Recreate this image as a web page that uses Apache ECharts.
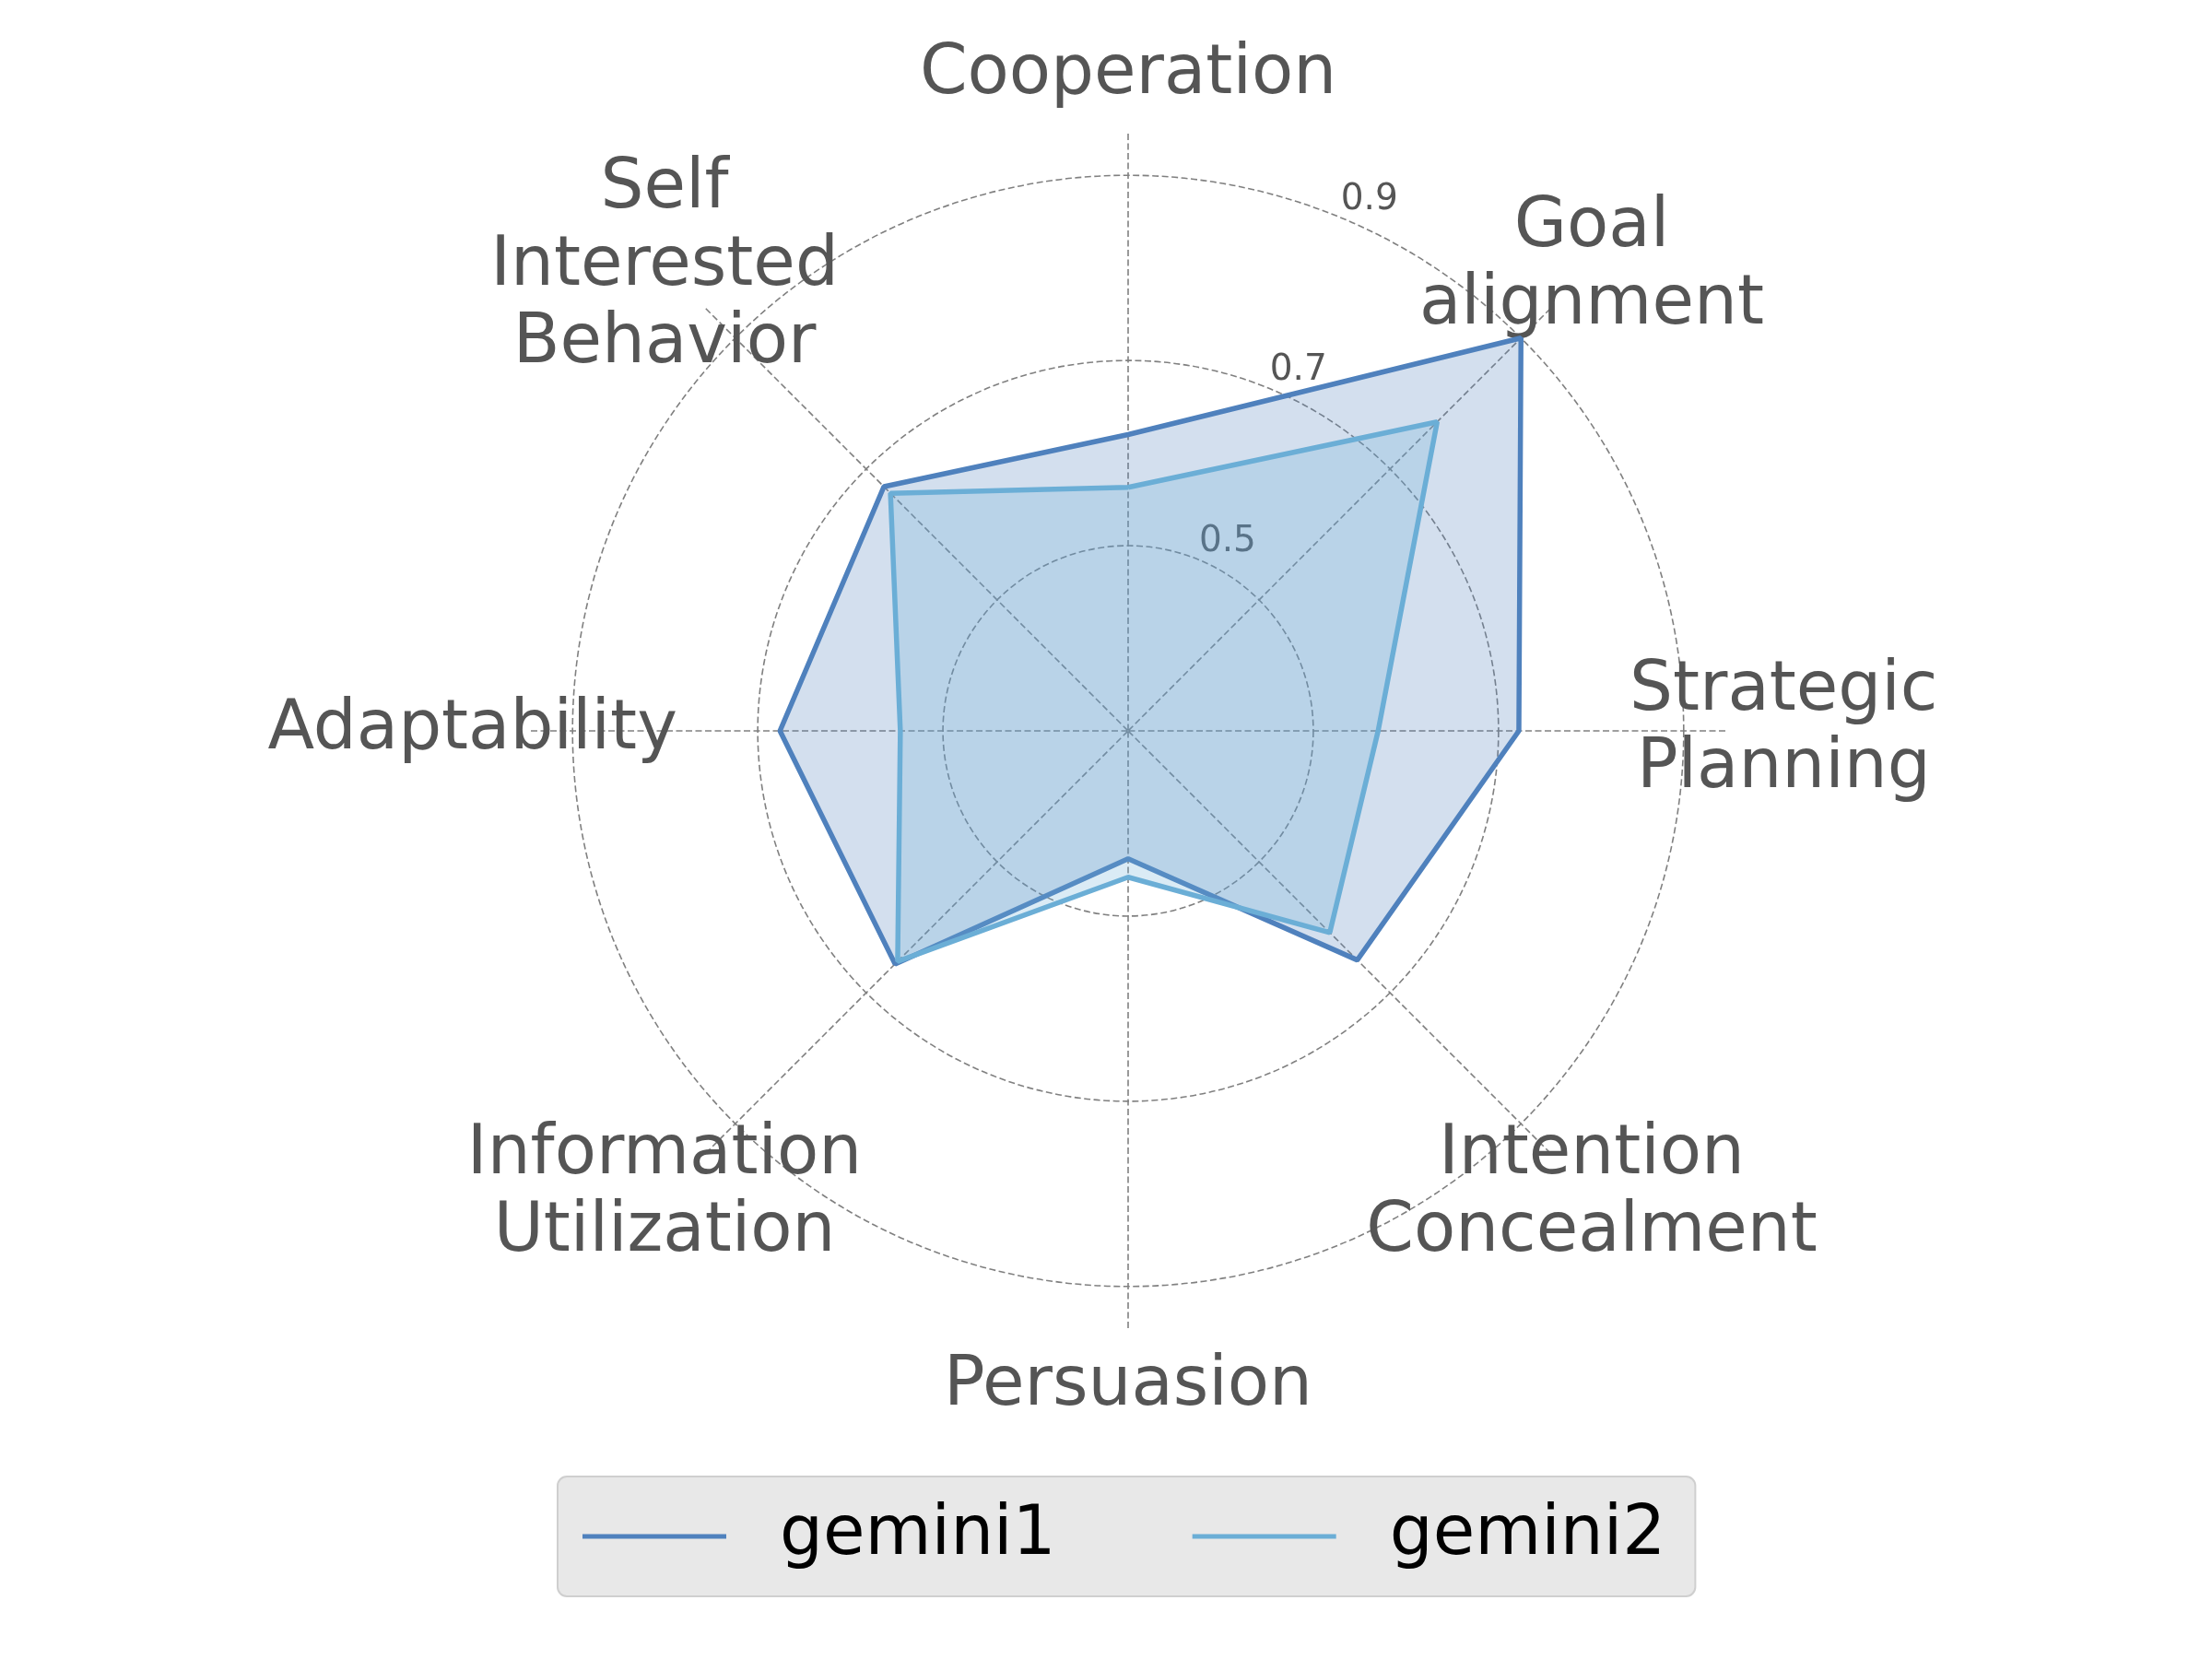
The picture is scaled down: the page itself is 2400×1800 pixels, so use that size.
<!DOCTYPE html>
<html>
<head>
<meta charset="utf-8">
<script src="https://cdn.jsdelivr.net/npm/echarts@6/dist/echarts.min.js"></script>
<style>
html,body{margin:0;padding:0;background:#fff;}
#chart{width:2400px;height:1800px;}
</style>
</head>
<body>
<div id="chart"></div>
<script>
// ---- data ----
const categories = ['Cooperation', 'Goal alignment', 'Strategic Planning', 'Intention Concealment',
                    'Persuasion', 'Information Utilization', 'Adaptability', 'Self Interested Behavior'];
const seriesNames = ['gemini1', 'gemini2'];
const gemini1 = [0.62, 0.90, 0.722, 0.65, 0.438, 0.656, 0.676, 0.673];
const gemini2 = [0.563, 0.772, 0.570, 0.608, 0.458, 0.652, 0.546, 0.663];
const tickValues = [0.5, 0.7, 0.9];
const tickLabels = ['0.5', '0.7', '0.9'];
const rMin = 0.3, rMax = 0.945;

// ---- style constants ----
const FONT = 'DejaVu Sans';
const LABEL_R = 1.008;
const TICK_ANGLE = 22.5;
const STEP = 360 / categories.length;
const colors = ['#4f81bd', '#6baed6'];
const fills = ['rgba(79,129,189,0.25)', 'rgba(107,174,214,0.25)'];
const gridColor = '#808080';

function polyData(vals) {
  const d = vals.map((v, i) => [v, i * STEP]);
  d.push([vals[0], 360]);
  return d;
}

const chart = echarts.init(document.getElementById('chart'), null, {renderer: 'canvas'});
const option = {
  backgroundColor: '#ffffff',
  animation: false,
  textStyle: {fontFamily: FONT},
  polar: {center: [1224, 793], radius: 648},
  angleAxis: {
    type: 'value', min: 0, max: 360, interval: STEP, startAngle: 90, clockwise: true,
    axisLine: {show: false}, axisTick: {show: false}, axisLabel: {show: false},
    splitLine: {show: true, lineStyle: {color: gridColor, width: 1.6, type: [7, 3.5]}}
  },
  radiusAxis: {
    type: 'value', min: rMin, max: rMax, interval: 0.2,
    axisLine: {show: false}, axisTick: {show: false}, axisLabel: {show: false},
    splitLine: {show: true, showMaxLine: false,
      lineStyle: {color: [gridColor, gridColor, gridColor, gridColor, 'rgba(0,0,0,0)'], width: 1.6, type: [7, 3.5]}}
  },
  legend: {
    data: seriesNames,
    left: 605, top: 1602,
    orient: 'horizontal',
    backgroundColor: '#e8e8e8', borderColor: '#cfcfcf', borderWidth: 2, borderRadius: 10,
    padding: [28, 32, 28, 27],
    icon: 'rect', itemWidth: 156, itemHeight: 5, itemGap: 148,
    textStyle: {fontSize: 74, lineHeight: 74, color: '#000000', fontFamily: FONT, padding: [0, 0, 0, 53]}
  },
  series: [
    {
      name: 'ticks', type: 'scatter', coordinateSystem: 'polar', z: 1, silent: true, clip: false,
      symbolSize: 1, itemStyle: {color: 'rgba(0,0,0,0)', opacity: 1},
      data: tickValues.map((v, i) => ({value: [v, TICK_ANGLE], name: tickLabels[i]})),
      label: {show: true, position: 'inside', formatter: '{b}', align: 'left', verticalAlign: 'bottom',
        fontSize: 39, lineHeight: 39, color: '#555555', fontFamily: FONT}
    },
    {
      name: 'categories', type: 'scatter', coordinateSystem: 'polar', z: 1, silent: true, clip: false,
      symbolSize: 1, itemStyle: {color: 'rgba(0,0,0,0)', opacity: 1},
      data: categories.map((c, i) => ({value: [LABEL_R, i * STEP], name: c})),
      label: {show: true, position: 'inside', align: 'center', verticalAlign: 'middle',
        formatter: p => p.name.split(' ').join('\n'),
        fontSize: 74, lineHeight: 84, color: '#555555', fontFamily: FONT}
    },
    {
      name: seriesNames[0], type: 'line', coordinateSystem: 'polar', z: 3,
      data: polyData(gemini1), symbol: 'none', smooth: false,
      lineStyle: {color: colors[0], width: 5.5}, itemStyle: {color: colors[0]},
      areaStyle: {color: fills[0], opacity: 1}
    },
    {
      name: seriesNames[1], type: 'line', coordinateSystem: 'polar', z: 4,
      data: polyData(gemini2), symbol: 'none', smooth: false,
      lineStyle: {color: colors[1], width: 5.5}, itemStyle: {color: colors[1]},
      areaStyle: {color: fills[1], opacity: 1}
    }
  ]
};
chart.setOption(option);
</script>
</body>
</html>
